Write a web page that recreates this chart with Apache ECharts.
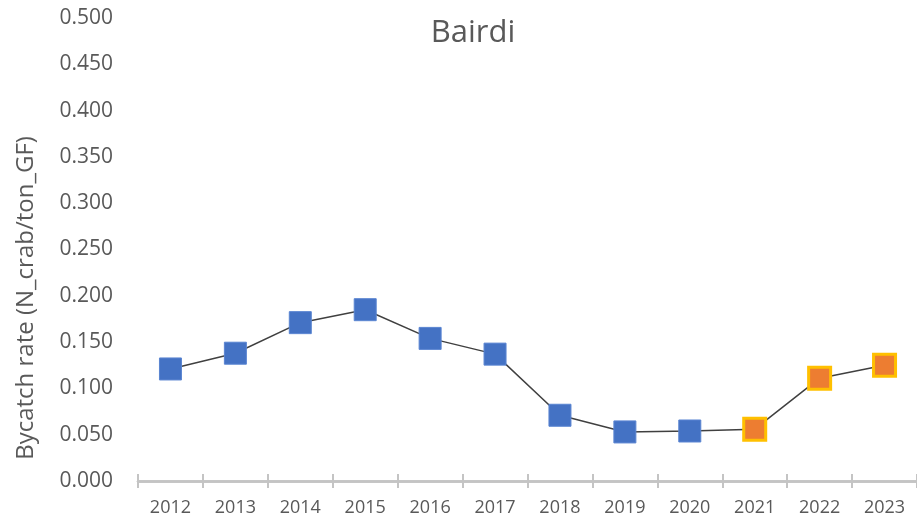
<!DOCTYPE html>
<html>
<head>
<meta charset="utf-8">
<script src="https://cdn.jsdelivr.net/npm/echarts@6/dist/echarts.min.js"></script>
<style>
  html, body { margin: 0; padding: 0; background: #fff; }
  #chart { width: 917px; height: 522px; }
</style>
</head>
<body>
<div id="chart"></div>
<script>
// years on the x axis
var years = ['2012', '2013', '2014', '2015', '2016', '2017', '2018', '2019', '2020', '2021', '2022', '2023'];
// bycatch rate per year
var rates = [0.121, 0.138, 0.171, 0.185, 0.154, 0.137, 0.071, 0.053, 0.054, 0.056, 0.111, 0.125];
// years drawn with the orange marker
var orangeYears = ['2021', '2022', '2023'];

var blue = { color: '#4472C4', borderColor: '#5A85D2', borderWidth: 1 };
var orange = { color: '#ED7D31', borderColor: '#FFC000', borderWidth: 3 };

var points = rates.map(function (v, i) {
  return {
    value: v,
    itemStyle: orangeYears.indexOf(years[i]) >= 0 ? orange : blue
  };
});

var grey = '#595959';
var axisGrey = '#C4C4C4';
var plotBox = { left: 138, right: 0, top: 18, bottom: 41 };

var myChart = echarts.init(document.getElementById('chart'));
myChart.setOption({
  animation: false,
  textStyle: { fontFamily: 'Open Sans' },
  title: {
    text: 'Bairdi',
    left: 468,
    textAlign: 'center',
    top: 13,
    textStyle: { fontSize: 31, fontWeight: 'normal', color: grey, fontFamily: 'Open Sans' }
  },
  // axis title, placed by hand so it sits where the original one is
  graphic: [{
    type: 'text',
    x: 26,
    y: 298,
    rotation: Math.PI / 2,
    style: {
      text: 'Bycatch rate (N_crab/ton_GF)',
      fill: grey,
      fontSize: 24,
      fontFamily: 'Open Sans',
      textAlign: 'center',
      textVerticalAlign: 'middle'
    }
  }],
  // second grid on top of the first, only for the upper half of the ticks
  grid: [plotBox, plotBox],
  xAxis: [{
    type: 'category',
    gridIndex: 0,
    data: years,
    boundaryGap: true,
    axisLine: { lineStyle: { color: axisGrey, width: 2.5 } },
    axisTick: { show: true, length: 7, lineStyle: { color: axisGrey, width: 2 } },
    axisLabel: { color: grey, fontSize: 18, margin: 18 }
  }, {
    type: 'category',
    gridIndex: 1,
    data: years,
    boundaryGap: true,
    axisLine: { show: true, lineStyle: { color: axisGrey, width: 2.5 } },
    axisTick: { show: true, inside: true, length: 7, lineStyle: { color: axisGrey, width: 2 } },
    axisLabel: { show: false }
  }],
  yAxis: [{
    type: 'value',
    gridIndex: 0,
    min: 0,
    max: 0.5,
    interval: 0.05,
    axisLine: { show: false },
    axisTick: { show: false },
    splitLine: { show: false },
    axisLabel: {
      color: grey,
      fontSize: 21,
      margin: 25,
      formatter: function (v) { return v.toFixed(3); }
    }
  }, {
    type: 'value',
    gridIndex: 1,
    min: 0,
    max: 0.5,
    show: false
  }],
  series: [{
    type: 'line',
    data: points,
    symbol: 'rect',
    symbolSize: 22,
    lineStyle: { color: '#404040', width: 1.5 }
  }, {
    type: 'line',
    xAxisIndex: 1,
    yAxisIndex: 1,
    data: [],
    silent: true
  }]
});
</script>
</body>
</html>
